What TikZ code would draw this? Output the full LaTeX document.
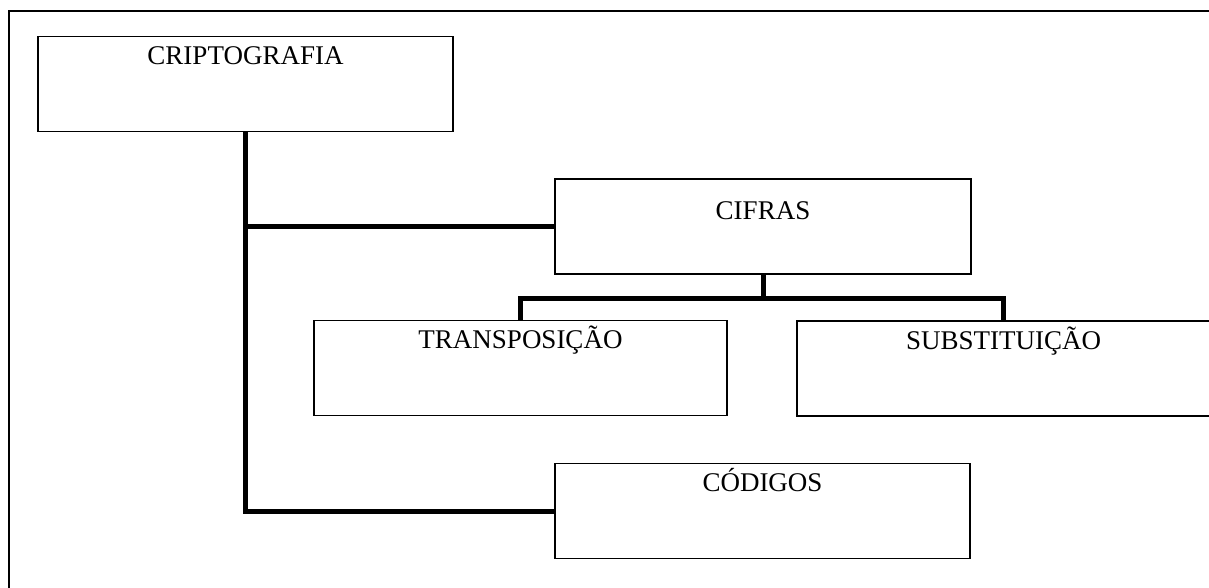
\documentclass[tikz,border=0pt]{standalone}
\usepackage{fontspec}
\setmainfont{Liberation Serif}
\usetikzlibrary{positioning}

\tikzset{
  box/.style={draw, line width=1.2pt, inner sep=0, text width=#1, align=center,
    text height=28pt, text depth=67pt, font=\fontsize{27}{30}\selectfont},
  box/.default=415pt,
  conn/.style={line width=5pt, miter limit=10}
}

\begin{document}
\begin{tikzpicture}[x=1pt, y=-1pt]
\useasboundingbox (0,0) rectangle (1209,588);
% frame
\coordinate (fbl) at (9,600);
\coordinate (ftl) at (9,11);
\coordinate (ftr) at (1220,11);
\draw[line width=2pt] (fbl) -- (ftl) -- (ftr);
% boxes
\node[box] (cripto) at (245.5,84) {CRIPTOGRAFIA};
\node[box=416pt, text height=40pt, text depth=55pt] (cifras) at (763,226.5) {CIFRAS};
\node[box=413pt] (trans) at (520.5,368) {TRANSPOSIÇÃO};
\node[box=413pt] (subst) at (1003.5,368.5) {SUBSTITUIÇÃO};
\node[box] (codigos) at (762.5,511) {CÓDIGOS};
% connectors
\draw[conn] (cripto.south) |- (codigos.west);
\draw[conn] (cripto.south |- cifras.west) -- (cifras.west);
\draw[conn] (cifras.south) -- ++(0,24) coordinate (fork);
\draw[conn] (fork) -| (trans.north);
\draw[conn] (fork) -| (subst.north);
\end{tikzpicture}
\end{document}
